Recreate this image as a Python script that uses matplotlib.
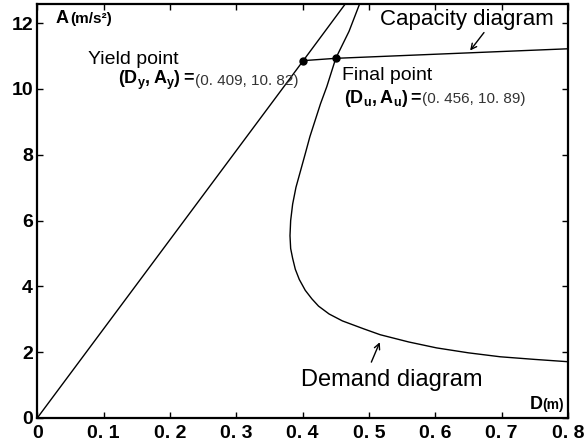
import matplotlib
matplotlib.use("Agg")
import matplotlib.pyplot as plt

# capacity diagram (bilinear)
cap_D = [0.0, 0.401, 0.450, 0.8]
cap_A = [0.0, 10.86, 10.93, 11.22]

# elastic line continued through yield point (goes off the top)
el_D = [0.401, 0.476]
el_A = [10.86, 12.9]

# demand diagram
dem_D = [0.492, 0.470, 0.450, 0.4365, 0.427, 0.419, 0.411, 0.404, 0.397, 0.390,
         0.385, 0.382, 0.381, 0.382, 0.385, 0.389, 0.395, 0.404, 0.414, 0.424,
         0.440, 0.460, 0.492, 0.517, 0.560, 0.602, 0.650, 0.698, 0.750, 0.8]
dem_A = [12.9, 11.75, 10.93, 10.07, 9.55, 9.05, 8.55, 8.03, 7.52, 7.01,
         6.50, 6.00, 5.54, 5.15, 4.85, 4.52, 4.21, 3.88, 3.62, 3.40,
         3.16, 2.95, 2.71, 2.53, 2.31, 2.13, 1.98, 1.86, 1.78, 1.71]

yield_pt = (0.401, 10.86)
final_pt = (0.450, 10.93)

xticks = [0, 0.1, 0.2, 0.3, 0.4, 0.5, 0.6, 0.7, 0.8]
xlabels = ["0", "0. 1", "0. 2", "0. 3", "0. 4", "0. 5", "0. 6", "0. 7", "0. 8"]
yticks = [0, 2, 4, 6, 8, 10, 12]

bold = {"family": ["Liberation Sans", "DejaVu Sans"], "weight": "bold"}
plt.rcParams["mathtext.fontset"] = "custom"
plt.rcParams["mathtext.bf"] = "Liberation Sans:bold"
plt.rcParams["mathtext.rm"] = "Liberation Sans:bold"

fig = plt.figure(figsize=(5.87, 4.48), dpi=100)
ax = fig.add_axes([0.0635, 0.067, 0.904, 0.924])

ax.plot(cap_D, cap_A, color="black", lw=1.0)
ax.plot(el_D, el_A, color="black", lw=1.0)
ax.plot(dem_D, dem_A, color="black", lw=1.0)
ax.plot([yield_pt[0], final_pt[0]], [yield_pt[1], final_pt[1]], "o", color="black", ms=5)

ax.set_xlim(0, 0.8)
ax.set_ylim(0, 12.58)
ax.set_xticks(xticks)
ax.set_xticklabels(xlabels, fontdict=bold, fontsize=14)
ax.set_yticks(yticks)
ax.set_yticklabels([str(v) for v in yticks], fontdict=bold, fontsize=14)
ax.tick_params(direction="in", length=4, width=1, top=True, right=True)
ax.tick_params(axis="x", pad=5)
ax.tick_params(axis="y", pad=3)
for s in ax.spines.values():
    s.set_linewidth(1.6)

# axis names inside the frame
ax.text(0.027, 12.15, "A", fontdict=bold, fontsize=13, va="center")
ax.text(0.050, 12.12, "(m/s²)", fontdict=bold, fontsize=11, va="center")
ax.text(0.742, 0.40, "D", fontdict=bold, fontsize=13, va="center")
ax.text(0.762, 0.38, "(m)", fontdict=bold, fontsize=10, va="center")

# annotations
ax.text(0.077, 10.88, "Yield point", fontsize=14, va="center", family="Liberation Sans")
t1 = ax.text(0.122, 10.25, r"$\mathbf{(D_y,A_y)=}$", fontsize=13, va="center")
ax.annotate("(0. 409, 10. 82)", xy=(1, 0.5), xycoords=t1, va="center", ha="left",
            fontsize=11, color="#333333", family="Liberation Sans")

ax.text(0.459, 10.40, "Final point", fontsize=14, va="center", family="Liberation Sans")
t2 = ax.text(0.462, 9.70, r"$\mathbf{(D_u,A_u)=}$", fontsize=13, va="center")
ax.annotate("(0. 456, 10. 89)", xy=(1, 0.5), xycoords=t2, va="center", ha="left",
            fontsize=11, color="#333333", family="Liberation Sans")

ax.text(0.516, 12.1, "Capacity diagram", fontsize=16, va="center", family="Liberation Sans")
ax.annotate("", xy=(0.650, 11.1), xytext=(0.676, 11.78),
            arrowprops=dict(arrowstyle="->", color="black", lw=1))

ax.text(0.398, 1.15, "Demand diagram", fontsize=17, va="center", family="Liberation Sans")
ax.annotate("", xy=(0.518, 2.38), xytext=(0.502, 1.62),
            arrowprops=dict(arrowstyle="->", color="black", lw=1))

fig.savefig("out.png", dpi=100)
